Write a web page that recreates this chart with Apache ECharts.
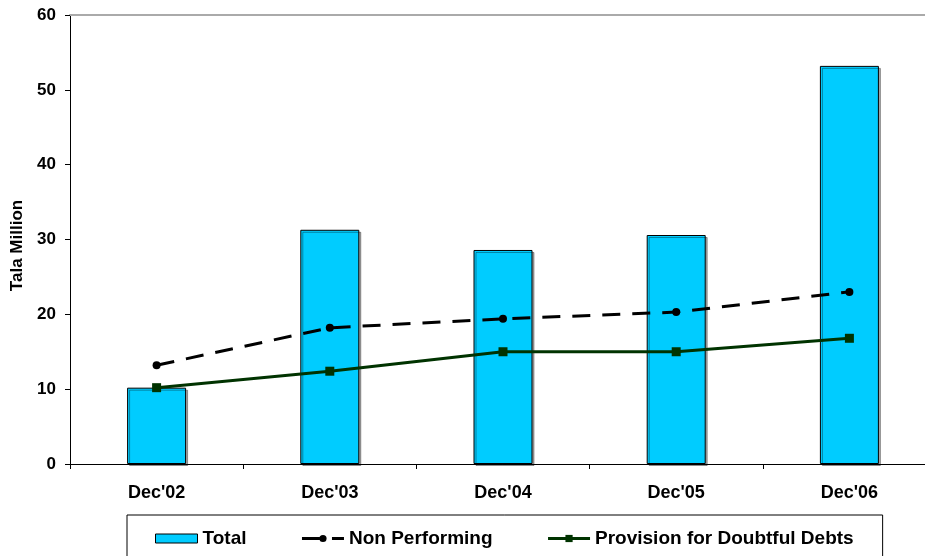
<!DOCTYPE html>
<html>
<head>
<meta charset="utf-8">
<script src="https://cdn.jsdelivr.net/npm/echarts@6/dist/echarts.min.js"></script>
<style>
html,body{margin:0;padding:0;background:#fff;overflow:hidden;}
#chart{width:950px;height:556px;}
</style>
</head>
<body>
<div id="chart"></div>
<script>
// 数据
var categories = ["Dec'02", "Dec'03", "Dec'04", "Dec'05", "Dec'06"];
var totalData = [10.2, 31.3, 28.6, 30.6, 53.2];
var nonPerfData = [13.2, 18.2, 19.4, 20.3, 23.0];
var provisionData = [10.2, 12.4, 15.0, 15.0, 16.8];
var yTicks = [0, 10, 20, 30, 40, 50, 60];

var myChart = echarts.init(document.getElementById('chart'));
var fontFam = 'Liberation Sans, Arial, sans-serif';

var option = {
    animation: false,
    textStyle: { fontFamily: fontFam },
    grid: { left: 70, top: 15, width: 866, height: 449, outerBoundsMode: 'none' },
    legend: {
        left: 127, top: 515,
        padding: [14, 29, 13, 28],
        itemGap: 54,
        itemWidth: 42, itemHeight: 9,
        borderColor: '#000', borderWidth: 1,
        textStyle: { fontSize: 19, fontWeight: 'bold', color: '#000', fontFamily: fontFam },
        data: [
            { name: 'Total', icon: 'rect', itemStyle: { borderWidth: 1, borderColor: '#000' } },
            { name: 'Non Performing', lineStyle: { width: 3 } },
            { name: 'Provision for Doubtful Debts', lineStyle: { width: 3 } }
        ]
    },
    xAxis: [{
        type: 'category',
        data: categories,
        axisLine: { lineStyle: { color: '#000', width: 1 } },
        axisTick: { show: true, length: 5, lineStyle: { color: '#000' } },
        axisLabel: { fontSize: 18, fontWeight: 'bold', color: '#000', margin: 20 }
    }, {
        type: 'category',
        position: 'top',
        data: categories,
        axisLine: { lineStyle: { color: '#aaa', width: 2 } },
        axisTick: { show: false },
        axisLabel: { show: false }
    }],
    yAxis: {
        type: 'value',
        min: 0, max: 60, interval: 10,
        name: 'Tala Million',
        nameLocation: 'middle',
        nameGap: 42,
        nameTextStyle: { fontSize: 17, fontWeight: 'bold', color: '#000', padding: [0, 12, 0, 0] },
        axisLine: { show: true, lineStyle: { color: '#000' } },
        axisTick: { show: true, length: 5, lineStyle: { color: '#000' } },
        axisLabel: {
            fontSize: 17, fontWeight: 'bold', color: '#000', margin: 14,
            formatter: function (v) { return yTicks.indexOf(v) >= 0 ? String(v) : ''; }
        },
        splitLine: { show: false }
    },
    series: [{
        name: 'Total',
        type: 'bar',
        data: totalData,
        barWidth: 59,
        itemStyle: {
            color: '#00CCFF', borderColor: '#000', borderWidth: 1,
            shadowColor: 'rgba(0,0,0,0.35)', shadowOffsetX: 2, shadowOffsetY: 2
        }
    }, {
        name: 'Non Performing',
        type: 'line',
        data: nonPerfData,
        symbol: 'circle', symbolSize: 8,
        lineStyle: { color: '#000', width: 3, type: [18, 12] },
        itemStyle: { color: '#000' }
    }, {
        name: 'Provision for Doubtful Debts',
        type: 'line',
        data: provisionData,
        symbol: 'rect', symbolSize: 9,
        lineStyle: { color: '#003300', width: 3 },
        itemStyle: { color: '#003300' }
    }]
};
myChart.setOption(option, true);
</script>
</body>
</html>
